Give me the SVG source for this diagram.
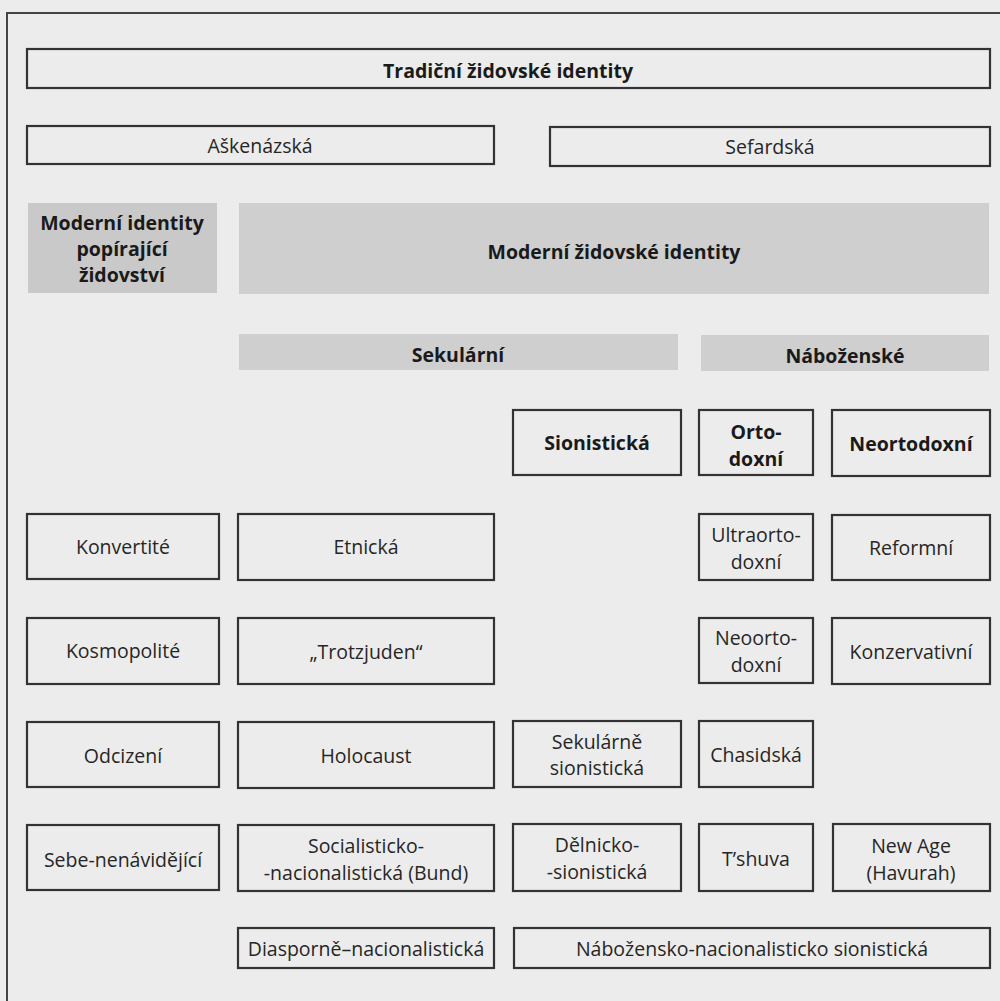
<svg xmlns="http://www.w3.org/2000/svg" width="1000" height="1001" viewBox="0 0 1000 1001">
<style>
.bx{fill:none;stroke:#333;stroke-width:2.2}
.gr{fill:#cfcfcf;stroke:none}
text{font-family:"Open Sans","Noto Sans",sans-serif;font-size:19.5px;fill:#262626;text-anchor:middle;dominant-baseline:central}
.b{font-weight:bold;fill:#1a1a1a}
</style>
<rect x="0" y="0" width="1000" height="1001" fill="#ececec"/>
<g id="frame"><path d="M1000 13 H7 V1001" fill="none" stroke="#444" stroke-width="2"/></g>
<g id="connectors"></g>
<g id="n-tradicni"><rect class="bx" x="27" y="49" width="963" height="39"/><text class="b" x="508" y="70">Tradiční židovské identity</text></g>
<g id="n-askenazska"><rect class="bx" x="27" y="126" width="467" height="38"/><text x="260" y="145">Aškenázská</text></g>
<g id="n-sefardska"><rect class="bx" x="550" y="127" width="440" height="39"/><text x="770" y="146">Sefardská</text></g>
<g id="n-popirajici"><rect class="gr" x="28" y="203" width="189" height="90" style="fill:#c9c9c9"/><text class="b" x="122" y="222">Moderní identity</text><text class="b" x="122" y="248">popírající</text><text class="b" x="122" y="274">židovství</text></g>
<g id="n-moderni"><rect class="gr" x="239" y="203" width="750" height="91"/><text class="b" x="614" y="251">Moderní židovské identity</text></g>
<g id="n-sekularni"><rect class="gr" x="239" y="334" width="439" height="36"/><text class="b" x="458" y="354">Sekulární</text></g>
<g id="n-nabozenske"><rect class="gr" x="701" y="335" width="288" height="36"/><text class="b" x="845" y="355">Náboženské</text></g>
<g id="n-sionisticka"><rect class="bx" x="513" y="410" width="168" height="65"/><text class="b" x="597" y="442">Sionistická</text></g>
<g id="n-ortodoxni"><rect class="bx" x="699" y="410" width="114" height="65"/><text class="b" x="756" y="431">Orto-</text><text class="b" x="756" y="458">doxní</text></g>
<g id="n-neortodoxni"><rect class="bx" x="832" y="410" width="158" height="66"/><text class="b" x="911" y="443">Neortodoxní</text></g>
<g id="n-konvertite"><rect class="bx" x="27" y="514" width="192" height="65"/><text x="123" y="546">Konvertité</text></g>
<g id="n-etnicka"><rect class="bx" x="238" y="514" width="256" height="66"/><text x="366" y="546">Etnická</text></g>
<g id="n-ultraortodoxni"><rect class="bx" x="699" y="514" width="114" height="66"/><text x="756" y="534">Ultraorto-</text><text x="756" y="561">doxní</text></g>
<g id="n-reformni"><rect class="bx" x="832" y="515" width="158" height="65"/><text x="911" y="547">Reformní</text></g>
<g id="n-kosmopolite"><rect class="bx" x="27" y="618" width="192" height="66"/><text x="123" y="650">Kosmopolité</text></g>
<g id="n-trotzjuden"><rect class="bx" x="238" y="618" width="256" height="66"/><text x="366" y="651">„Trotzjuden“</text></g>
<g id="n-neoortodoxni"><rect class="bx" x="699" y="618" width="114" height="65"/><text x="756" y="637">Neoorto-</text><text x="756" y="664">doxní</text></g>
<g id="n-konzervativni"><rect class="bx" x="832" y="618" width="158" height="66"/><text x="911" y="651">Konzervativní</text></g>
<g id="n-odcizeni"><rect class="bx" x="27" y="722" width="192" height="65"/><text x="123" y="755">Odcizení</text></g>
<g id="n-holocaust"><rect class="bx" x="238" y="722" width="256" height="66"/><text x="366" y="755">Holocaust</text></g>
<g id="n-sekularne"><rect class="bx" x="513" y="721" width="168" height="66"/><text x="597" y="741">Sekulárně</text><text x="597" y="767">sionistická</text></g>
<g id="n-chasidska"><rect class="bx" x="699" y="721" width="114" height="66"/><text x="756" y="754">Chasidská</text></g>
<g id="n-sebe"><rect class="bx" x="27" y="825" width="192" height="65"/><text x="123" y="859">Sebe-nenávidějící</text></g>
<g id="n-bund"><rect class="bx" x="238" y="825" width="256" height="66"/><text x="366" y="845">Socialisticko-</text><text x="366" y="872">-nacionalistická (Bund)</text></g>
<g id="n-delnicko"><rect class="bx" x="513" y="824" width="168" height="67"/><text x="597" y="844">Dělnicko-</text><text x="597" y="871">-sionistická</text></g>
<g id="n-tshuva"><rect class="bx" x="699" y="824" width="114" height="67"/><text x="756" y="858">T’shuva</text></g>
<g id="n-newage"><rect class="bx" x="833" y="824" width="157" height="67"/><text x="911" y="845">New Age</text><text x="911" y="872">(Havurah)</text></g>
<g id="n-diasporne"><rect class="bx" x="238" y="928" width="256" height="40"/><text x="366" y="948">Diasporně–nacionalistická</text></g>
<g id="n-nabozensko"><rect class="bx" x="514" y="928" width="476" height="40"/><text x="752" y="948">Nábožensko-nacionalisticko sionistická</text></g>
</svg>
